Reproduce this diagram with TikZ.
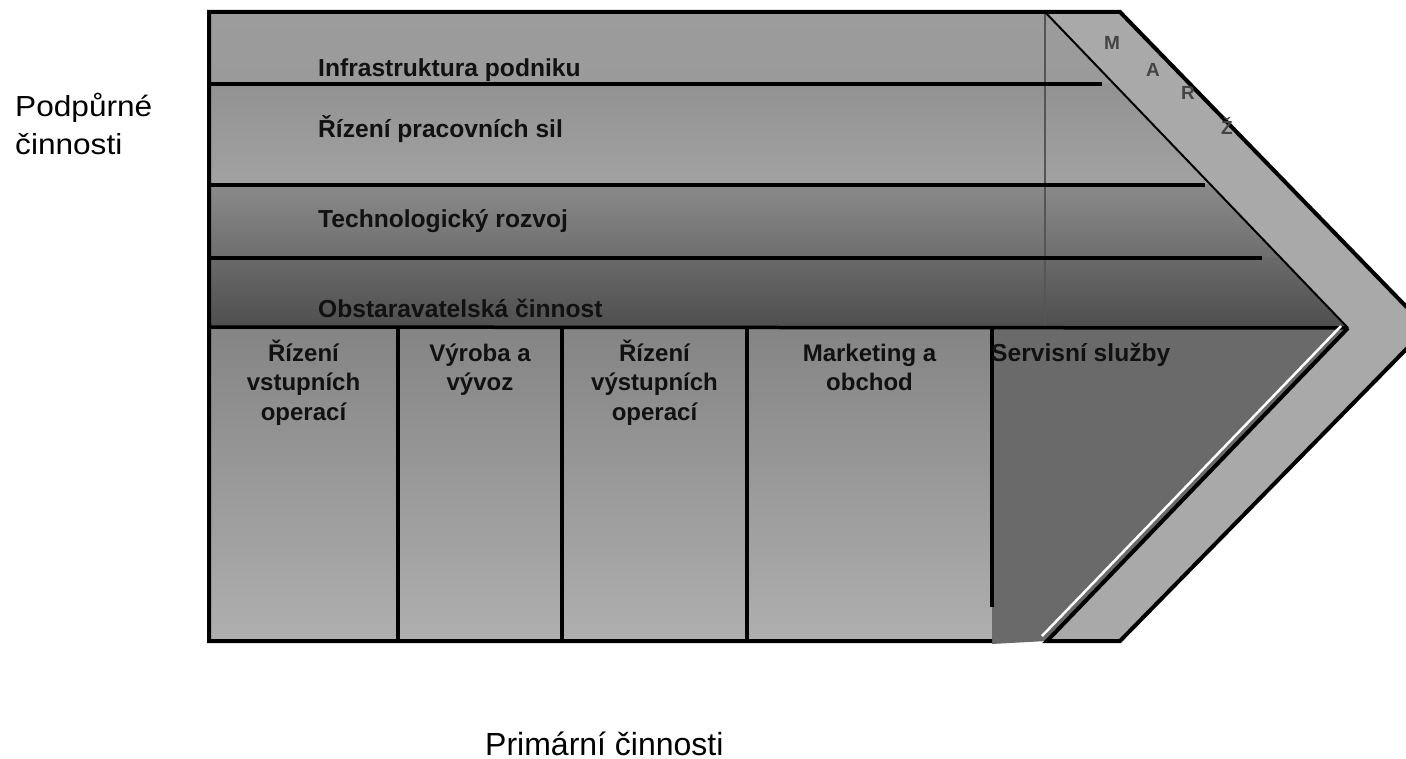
\documentclass[tikz,border=0pt]{standalone}
\usepackage{fontspec}
\setmainfont{Liberation Sans}
\newfontfamily\widefont[FakeStretch=1.09]{Liberation Sans}
\definecolor{bandc}{HTML}{A9A9A9}
\definecolor{rAt}{HTML}{9C9C9C}
\definecolor{rAb}{HTML}{9A9A9A}
\definecolor{rBt}{HTML}{929292}
\definecolor{rBb}{HTML}{A2A2A2}
\definecolor{rCt}{HTML}{8A8A8A}
\definecolor{rCb}{HTML}{6E6E6E}
\definecolor{rDt}{HTML}{6A6A6A}
\definecolor{rDb}{HTML}{4E4E4E}
\definecolor{primt}{HTML}{848484}
\definecolor{primb}{HTML}{AFAFAF}
\definecolor{servc}{HTML}{6A6A6A}
\definecolor{vlinec}{HTML}{555555}
\definecolor{textc}{HTML}{111111}
\definecolor{margc}{HTML}{444444}
\tikzset{
  rowlab/.style={font=\bfseries\fontsize{24.6}{24.6}\selectfont, text=textc, inner sep=0pt, anchor=base west},
  collab/.style={font=\bfseries\fontsize{24}{24}\selectfont, text=textc, inner sep=0pt, anchor=base},
  sidelab/.style={font=\widefont\fontsize{29}{29}\selectfont, text=black, inner sep=0pt, anchor=base west},
  botlab/.style={font=\fontsize{32}{32}\selectfont, text=black, inner sep=0pt, anchor=base west},
  marg/.style={font=\bfseries\fontsize{19}{19}\selectfont, text=margc, inner sep=0pt},
  framel/.style={line width=4pt, draw=black, line join=miter},
  divl/.style={line width=3.5pt, draw=black},
  rowl/.style={line width=3.5pt, draw=black},
}
\begin{document}
\begin{tikzpicture}[x=1pt,y=-1pt]
\useasboundingbox (0,0) rectangle (1406,759);
\clip (0,0) rectangle (1406,759);
% key points
\coordinate (tl) at (209,12);
\coordinate (bl) at (209,641);
\coordinate (itop) at (1045,12);
\coordinate (otop) at (1120,12);
\coordinate (otip) at (1427,328);
\coordinate (obot) at (1120,641);
\coordinate (ibot) at (1047,641);
\coordinate (itip) at (1348,328);
% margin band
\fill[bandc] (itop) -- (otop) -- (otip) -- (obot) -- (ibot) -- (itip) -- cycle;
% support activities rows
\begin{scope}
  \clip (tl) -- (itop) -- (itip) -- (209,328) -- cycle;
  \shade[top color=rAt, bottom color=rAb] (209,12) rectangle (1360,84);
  \shade[top color=rBt, bottom color=rBb] (209,84) rectangle (1360,185);
  \shade[top color=rCt, bottom color=rCb] (209,185) rectangle (1360,258);
  \shade[top color=rDt, bottom color=rDb] (209,258) rectangle (1360,329);
\end{scope}
% primary activities
\shade[top color=primt, bottom color=primb] (209,327) rectangle (992,641);
\fill[servc] (992,327) -- (itip) -- (ibot) -- (992,644) -- cycle;
% thin vertical line
\draw[line width=1.5pt, draw=vlinec] (itop) -- (1045,327);
% row lines
\draw[rowl] (209,84) -- (1102,84);
\draw[rowl] (209,185) -- (1205,185);
\draw[rowl] (209,258) -- (1262,258);
\draw[rowl] (209,327) -- (itip);
% inner upper diagonal
\draw[line width=2pt, draw=black] (itop) -- (itip);
% white highlight along the lower inner diagonal
\draw[white, line width=2.5pt] (1341,326) -- (1042,636);
% column dividers
\draw[divl] (398,327) -- (398,641);
\draw[divl] (562,327) -- (562,641);
\draw[divl] (747,327) -- (747,641);
\draw[divl] (992,327) -- (992,607);
% outline
\draw[framel] (992,641) -- (bl) -- (tl) -- (otop) -- (otip) -- (obot) -- (ibot) -- (itip);
% margin letters
\node[marg] (mM) at (1112,43) {M};
\node[marg] (mA) at (1153,70) {A};
\node[marg] (mR) at (1188,93) {R};
\node[marg] (mZ) at (1227,126) {Ž};
% support labels
\node[rowlab] (s1) at (318,77) {Infrastruktura podniku};
\node[rowlab] (s2) at (318,138) {Řízení pracovních sil};
\node[rowlab] (s3) at (318,228) {Technologický rozvoj};
\node[rowlab] (s4) at (318,318) {Obstaravatelská činnost};
% primary labels
\node[collab] (p1a) at (303.5,362) {Řízení};
\node[collab] (p1b) at (303.5,391) {vstupních};
\node[collab] (p1c) at (303.5,420) {operací};
\node[collab] (p2a) at (480,362) {Výroba a};
\node[collab] (p2b) at (480,391) {vývoz};
\node[collab] (p3a) at (654.5,362) {Řízení};
\node[collab] (p3b) at (654.5,391) {výstupních};
\node[collab] (p3c) at (654.5,420) {operací};
\node[collab] (p4a) at (869.5,362) {Marketing a};
\node[collab] (p4b) at (869.5,391) {obchod};
\node[rowlab] (p5) at (991,362) {Servisní služby};
% side labels
\node[sidelab] (sideA) at (15,117) {Podpůrné};
\node[sidelab] (sideB) at (15,155) {činnosti};
\node[botlab] (bot) at (485,755) {Primární činnosti};
\end{tikzpicture}
\end{document}
